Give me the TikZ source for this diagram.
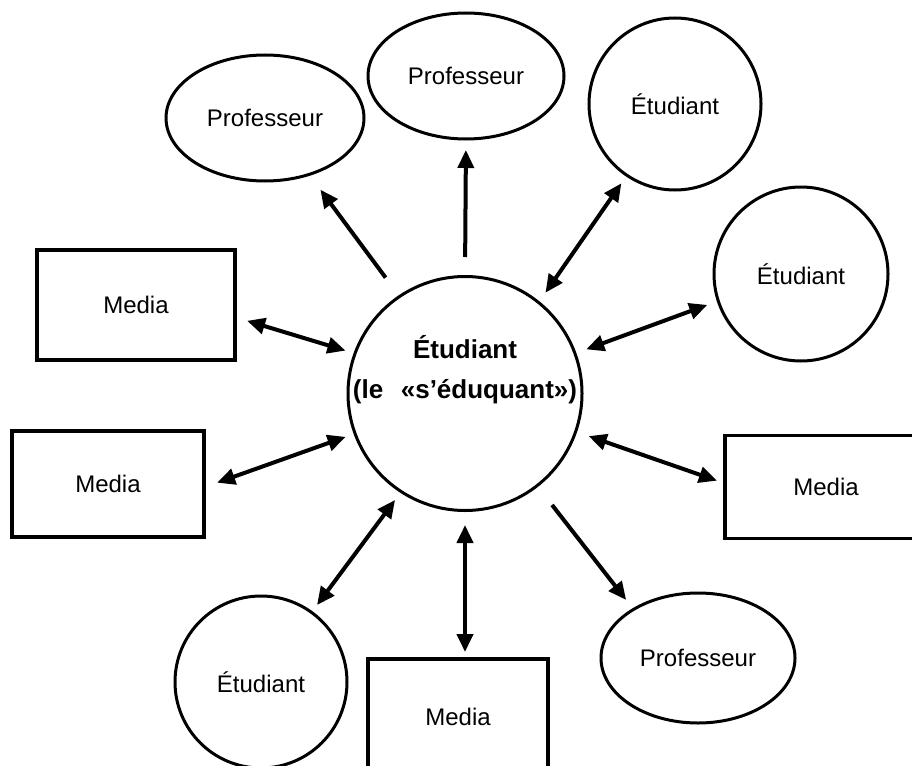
\documentclass[tikz,border=0pt]{standalone}
\usepackage{fontspec}
\setmainfont{Liberation Sans}
\usetikzlibrary{arrows.meta,shapes.geometric,calc}
\begin{document}
\begin{tikzpicture}[x=1pt,y=-1pt,
  every node/.style={font=\fontsize{24}{28}\selectfont, inner sep=0pt, outer sep=0pt},
  bord/.style={draw=black, line width=3pt},
  circ/.style={bord, circle},
  ell/.style={bord, ellipse},
  mediabox/.style={bord, rectangle, line width=3.5pt},
  tip/.tip={Triangle[length=18pt,width=16pt]},
  link/.style={line width=4pt, -tip},
  dlink/.style={line width=4pt, tip-tip},
]
\useasboundingbox (0,0) rectangle (912,765);
\clip (0,0) rectangle (912,765);

% central node
\node[circ, minimum size=234pt] (c) at (465,393.5) {};
\node[font=\bfseries\fontsize{26}{40}\selectfont, align=center] (ct) at (465,370)
  {Étudiant\\(le\hspace{0.4em} «s’éduquant»)};

% outer nodes
\node[ell, minimum width=198pt, minimum height=126pt] (tlp) at (265,118) {Professeur};
\node[ell, minimum width=196pt, minimum height=126pt] (tcp) at (466,76) {Professeur};
\node[circ, minimum size=172pt] (tre) at (675,104) {Étudiant};
\node[circ, minimum size=174pt] (re) at (801,274) {Étudiant};
\node[mediabox, minimum width=202pt, minimum height=103pt] (rm) at (826,487) {Media};
\node[ell, minimum width=194pt, minimum height=130pt] (brp) at (698,658) {Professeur};
\node[mediabox, minimum width=180pt, minimum height=116pt] (bm) at (458,717) {Media};
\node[circ, minimum size=172pt] (ble) at (261,682) {Étudiant};
\node[mediabox, minimum width=192pt, minimum height=106pt] (blm) at (108,484) {Media};
\node[mediabox, minimum width=198pt, minimum height=110pt] (tlm) at (136,305) {Media};

% connectors
\draw[link, shorten <=23.5pt, shorten >=19pt] (c.124.7) -- (tlp.-52.6);
\draw[link, shorten <=19.5pt, shorten >=11pt] (c.north) -- (tcp.south);
\draw[dlink, shorten <=12pt, shorten >=9.7pt] (c.51.8) -- (tre.-124.4);
\draw[dlink, shorten <=12pt, shorten >=11.7pt] (c.20.2) -- (re.-162.3);
\draw[dlink, shorten <=13.8pt, shorten >=8.5pt] (c.-19.9) -- (rm.178.7);
\draw[link, shorten <=24.4pt, shorten >=12pt] (c.-52) -- (brp.143.7);
\draw[dlink, shorten <=14.5pt, shorten >=7pt] (c.south) -- (c.south |- bm.north);
\draw[dlink, shorten <=10.4pt, shorten >=9.2pt] (c.-123.3) -- (ble.54);
\draw[dlink, shorten <=10pt, shorten >=13.9pt] (c.-160.9) -- (blm.-2.3);
\draw[dlink, shorten <=10pt, shorten >=12.6pt] (c.160.9) -- (tlm.-7.7);
\end{tikzpicture}
\end{document}
